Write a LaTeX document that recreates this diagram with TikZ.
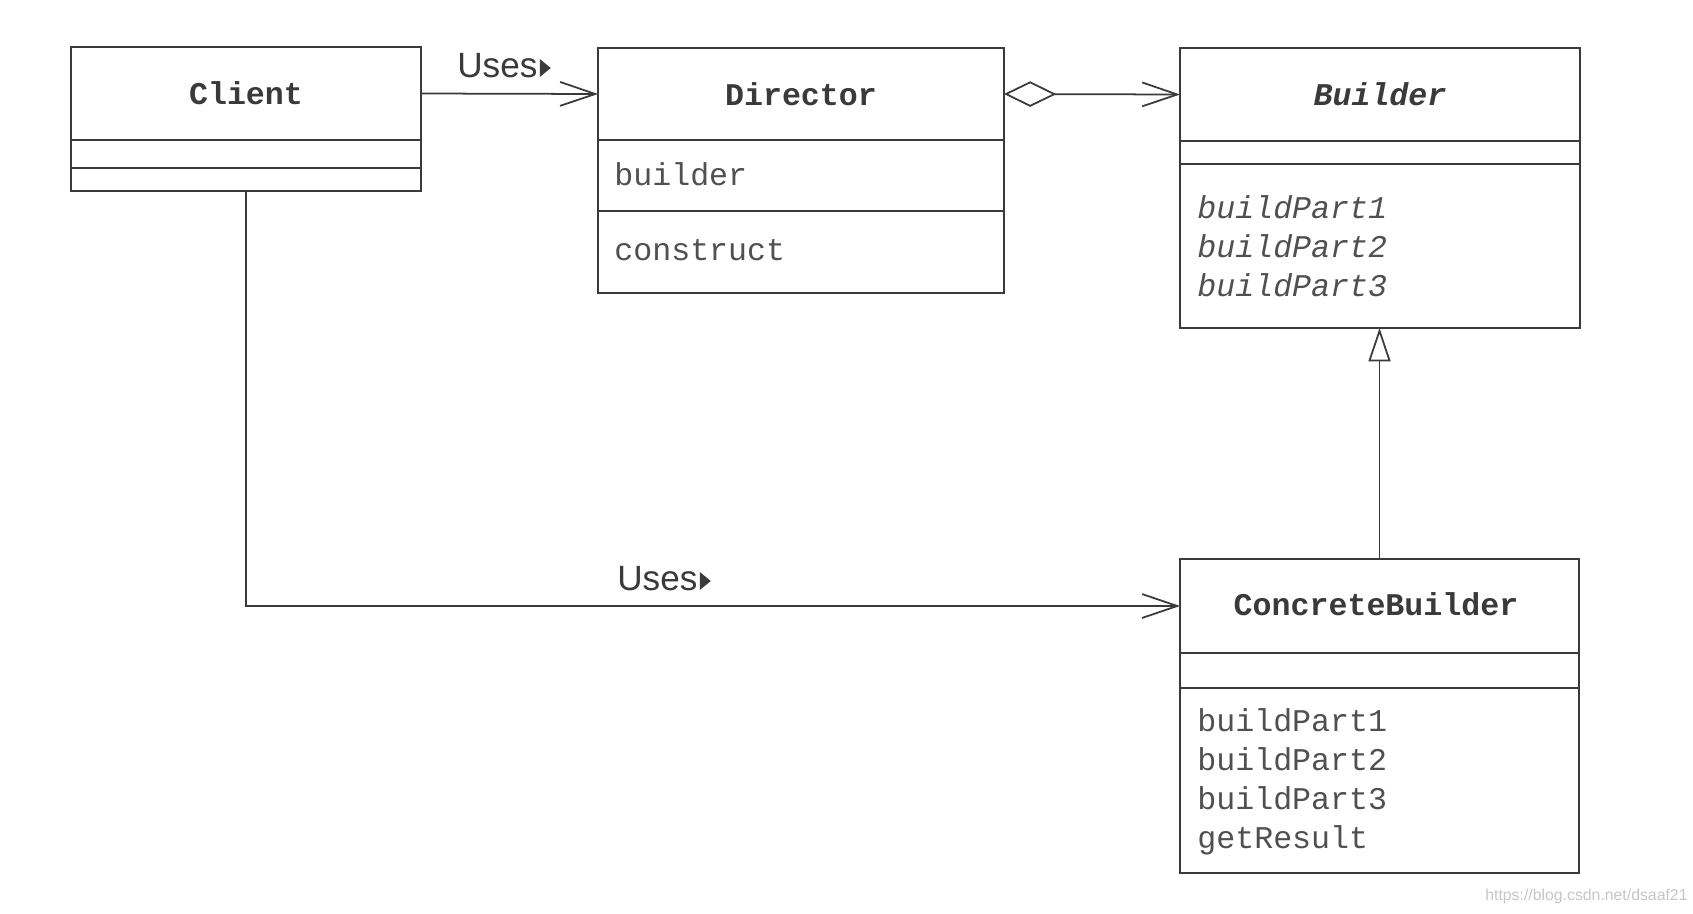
\documentclass[tikz,border=0pt]{standalone}
\usepackage{fontspec}
\setmainfont{Liberation Sans}
\newfontfamily\umlmono{Liberation Mono}
\usetikzlibrary{arrows.meta,fit}
\definecolor{ink}{HTML}{3A3A3A}
\definecolor{membertext}{HTML}{505050}
\begin{document}
\begin{tikzpicture}[x=0.02cm,y=-0.02cm,
  line/.style={draw=ink,line width=1pt},
  classbox/.style={draw=ink,line width=1pt,inner sep=0pt,outer sep=0pt},
  part/.style={inner sep=0pt,outer sep=0pt},
  title/.style={font=\umlmono\bfseries\fontsize{18}{22}\selectfont,text=ink,anchor=base,inner sep=0pt},
  abstitle/.style={title,font=\umlmono\bfseries\itshape\fontsize{18}{22}\selectfont},
  member/.style={font=\umlmono\fontsize{18}{22}\selectfont,text=membertext,anchor=base west,inner sep=0pt},
  absmember/.style={member,font=\umlmono\itshape\fontsize{18}{22}\selectfont},
  lbl/.style={font=\fontsize{20}{24}\selectfont,text=ink,anchor=base west,inner sep=0pt},
  openarrow/.style={-{Straight Barb[length=20pt,width=13.6pt]}},
  aggr/.style={{Diamond[open,length=29.8pt,width=14.5pt]}-{Straight Barb[length=20pt,width=13.6pt]}},
  inherit/.style={-{Triangle[open,length=19pt,width=12.5pt]}}
]
\fill[white] (0,0) rectangle (1693,913);
\useasboundingbox (0,0) rectangle (1693,913);

% Client
\node[classbox, fit={(71,47)(421,191)}] (client) {};
\node[part, fit={(71,47)(421,140)}] (clientHead) {};
\draw[line] (71,140) -- (421,140);
\draw[line] (71,168) -- (421,168);
\node[title] (clientName) at (246,104) {Client};

% Director
\node[classbox, fit={(598,48)(1004,293)}] (director) {};
\node[part, fit={(598,48)(1004,140)}] (directorHead) {};
\draw[line] (598,140) -- (1004,140);
\draw[line] (598,211) -- (1004,211);
\node[title] (directorName) at (801,105) {Director};
\node[member] (dirAttr) at (614,185) {builder};
\node[member] (dirOp) at (614,260) {construct};

% Builder
\node[classbox, fit={(1180,48)(1580,328)}] (builder) {};
\node[part, fit={(1180,48)(1580,141)}] (builderHead) {};
\draw[line] (1180,141) -- (1580,141);
\draw[line] (1180,164) -- (1580,164);
\node[abstitle] (builderName) at (1380,105) {Builder};
\node[absmember] (bop1) at (1197,218) {buildPart1};
\node[absmember] (bop2) at (1197,257) {buildPart2};
\node[absmember] (bop3) at (1197,296) {buildPart3};

% ConcreteBuilder
\node[classbox, fit={(1180,559)(1579,873)}] (concrete) {};
\node[part, fit={(1180,559)(1579,653)}] (concreteHead) {};
\draw[line] (1180,653) -- (1579,653);
\draw[line] (1180,688) -- (1579,688);
\node[title] (concreteName) at (1376,615) {ConcreteBuilder};
\node[member] (cop1) at (1197,731) {buildPart1};
\node[member] (cop2) at (1197,770) {buildPart2};
\node[member] (cop3) at (1197,809) {buildPart3};
\node[member] (cop4) at (1197,848) {getResult};

% Connectors
\draw[line, openarrow] (clientHead.east) -- (directorHead.west);
\draw[line, aggr] (directorHead.east) -- (builderHead.west);
\draw[line, inherit] (concrete.north) -- (concrete.north |- builder.south);
\draw[line, openarrow] (client.south) |- (concreteHead.west);

% Labels
\node[lbl] (uses1) at (457,77) {Uses};
\fill[ink] ([shift={(2,0)}]uses1.base east) -- ++(0,-18) -- ++(11,9) -- cycle;
\node[lbl] (uses2) at (617,590) {Uses};
\fill[ink] ([shift={(2,0)}]uses2.base east) -- ++(0,-18) -- ++(11,9) -- cycle;

% Watermark
\node[font=\fontsize{9}{10}\selectfont, text=black!22, anchor=base west, inner sep=0pt] (wm) at (1485,900) {https://blog.csdn.net/dsaaf21};
\end{tikzpicture}
\end{document}
